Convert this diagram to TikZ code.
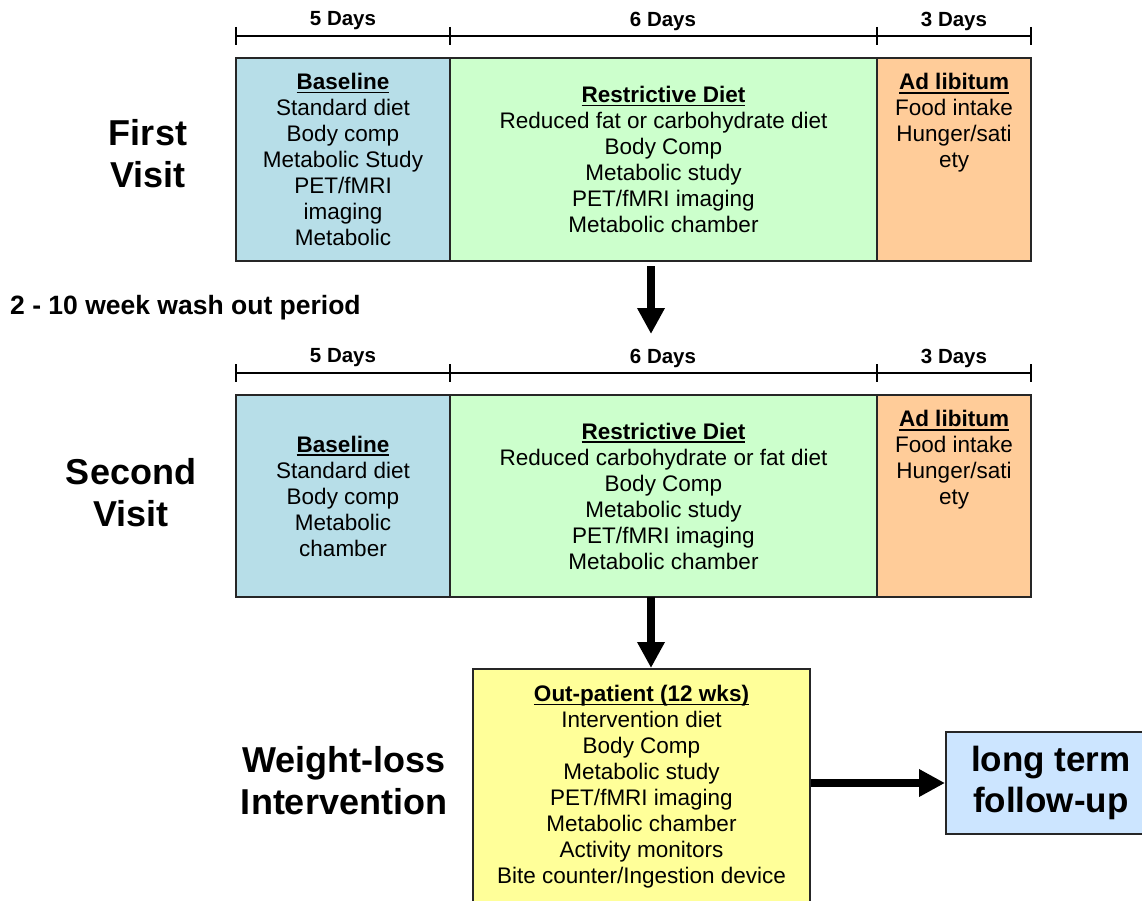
\documentclass[tikz,border=0pt]{standalone}
\usepackage{fontspec}
\setmainfont{Liberation Sans}
\usetikzlibrary{arrows.meta}
\definecolor{basecol}{HTML}{B7DEE8}
\definecolor{restcol}{HTML}{CCFFCC}
\definecolor{adlibcol}{HTML}{FFCC99}
\definecolor{outcol}{HTML}{FFFF99}
\definecolor{followcol}{HTML}{CCE5FF}
\newsavebox{\hdbox}
\newcommand{\hd}[1]{\sbox{\hdbox}{\bfseries #1}\rlap{\vrule width\wd\hdbox height -2.2pt depth 3.8pt}\usebox{\hdbox}}
\tikzset{
  phase/.style={draw=black!85,line width=1.6pt,inner sep=0pt,align=center,font=\fontsize{22.5}{26}\selectfont},
  body/.style={align=center,inner sep=0pt,font=\fontsize{22.5}{26}\selectfont},
  daylbl/.style={font=\bfseries\fontsize{20.5}{24}\selectfont},
  visit/.style={align=center,font=\bfseries\fontsize{36}{42}\selectfont},
  bigarrow/.style={line width=8pt,-{Triangle[length=26pt,width=26pt]}},
}

\begin{document}
\begin{tikzpicture}[x=1pt,y=-1pt]
\useasboundingbox (0,0) rectangle (1142,901);
\clip (0,0) rectangle (1142,901);
\foreach \ty in {36,373}{
  \draw[line width=1.5pt] (236,\ty) -- (1031,\ty);
  \foreach \tx in {236,450,877,1031}
    \draw[line width=1.5pt] (\tx,\ty-9) -- (\tx,\ty+9);
  \node[daylbl] (d5-\ty) at (343,\ty-15) {5 Days};
  \node[daylbl] (d6-\ty) at (663,\ty-15) {6 Days};
  \node[daylbl] (d3-\ty) at (954,\ty-15) {3 Days};
}
\node[visit] (v1) at (148,154) {First\\Visit};
\node[phase,fill=basecol,minimum width=214pt,minimum height=203pt] (b1) at (343,159.5)
  {\hd{Baseline}\\Standard diet\\Body comp\\Metabolic Study\\PET/fMRI\\imaging\\Metabolic};
\node[phase,fill=restcol,minimum width=427pt,minimum height=203pt] (r1) at (663.5,159.5)
  {\hd{Restrictive Diet}\\Reduced fat or carbohydrate diet\\Body Comp\\Metabolic study\\PET/fMRI imaging\\Metabolic chamber};
\node[phase,fill=adlibcol,minimum width=154pt,minimum height=203pt] (a1) at (954,159.5) {};
\node[body,anchor=north] (a1t) at ([yshift=-16pt]a1.north) {\hd{Ad libitum}\\Food intake\\Hunger/sati\\ety};
\node[font=\bfseries\fontsize{26.5}{30}\selectfont,anchor=west,inner sep=0pt] (wo) at (10,308) {2 - 10 week wash out period};
\coordinate (w1) at (651,266);
\coordinate (w2) at (651,334);
\draw[bigarrow] (w1) -- (w2);
\node[visit] (v2) at (131,493) {Second\\Visit};
\node[phase,fill=basecol,minimum width=214pt,minimum height=202pt] (b2) at (343,496)
  {\hd{Baseline}\\Standard diet\\Body comp\\Metabolic\\chamber};
\node[phase,fill=restcol,minimum width=427pt,minimum height=202pt] (r2) at (663.5,496)
  {\hd{Restrictive Diet}\\Reduced carbohydrate or fat diet\\Body Comp\\Metabolic study\\PET/fMRI imaging\\Metabolic chamber};
\node[phase,fill=adlibcol,minimum width=154pt,minimum height=202pt] (a2) at (954,496) {};
\node[body,anchor=north] (a2t) at ([yshift=-16pt]a2.north) {\hd{Ad libitum}\\Food intake\\Hunger/sati\\ety};
\node[phase,fill=outcol,minimum width=337pt,minimum height=260pt,anchor=north] (op) at (641.5,668) {};
\node[body,anchor=north] (opt) at ([yshift=-17pt]op.north)
  {\hd{Out-patient (12 wks)}\\Intervention diet\\Body Comp\\Metabolic study\\PET/fMRI imaging\\Metabolic chamber\\Activity monitors\\Bite counter/Ingestion device};
\coordinate (w3) at (651,597);
\draw[bigarrow] (w3) -- (w3 |- op.north);
\node[visit] (v3) at (344,781) {Weight-loss\\Intervention};
\node[phase,fill=followcol,minimum width=210pt,minimum height=102pt,anchor=west,font=\bfseries\fontsize{35}{41}\selectfont] (fu) at (945,783) {long term\\follow-up};
\draw[bigarrow] (fu.west -| op.east) -- (fu.west);
\end{tikzpicture}
\end{document}
